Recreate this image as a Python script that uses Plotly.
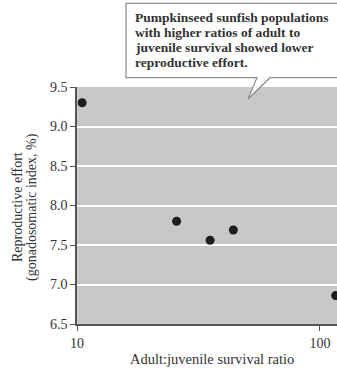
import plotly.graph_objects as go

survival_ratio = [10.5, 25.7, 35.3, 44.0, 116.0]
reproductive_effort = [9.3, 7.80, 7.56, 7.69, 6.86]
y_ticks = [6.5, 7.0, 7.5, 8.0, 8.5, 9.0, 9.5]
y_tick_labels = ["6.5", "7.0", "7.5", "8.0", "8.5", "9.0", "9.5"]
x_ticks = [10, 100]
x_tick_labels = ["10", "100"]
callout_lines = [
    "Pumpkinseed sunfish populations",
    "with higher ratios of adult to",
    "juvenile survival showed lower",
    "reproductive effort.",
]
y_title_lines = ["Reproductive effort", "(gonadosomatic index, %)"]
x_title = "Adult:juvenile survival ratio"

FONT = "Liberation Serif"
W, H = 337, 372
L, R, T, B = 77, 0, 87, 48
PW, PH = W - L - R, H - T - B


def px(x):
    return (x - L) / PW


def py(y):
    return (H - B - y) / PH


fig = go.Figure()
fig.add_trace(go.Scatter(
    x=survival_ratio, y=reproductive_effort, mode="markers",
    marker=dict(color="#1e1e1e", size=9), showlegend=False,
))

# callout box
x0, x1, yb, yt = px(126), px(345), py(77.7), py(3.3)
p1, p2, tipx, tipy = px(257), px(270), px(248), py(99)
path = (f"M {x0},{yt} L {x1},{yt} L {x1},{yb} L {p2},{yb} L {tipx},{tipy} "
        f"L {p1},{yb} L {x0},{yb} Z")
fig.add_shape(type="path", xref="paper", yref="paper", path=path,
              fillcolor="white", line=dict(color="#8c8c8c", width=1.2), layer="above")

for i, line in enumerate(callout_lines):
    fig.add_annotation(
        xref="paper", yref="paper", x=px(133), y=py(17 + 15.3 * i),
        xanchor="left", yanchor="middle", showarrow=False, text=f"<b>{line}</b>",
        font=dict(family=FONT, size=13.5, color="#333333"),
    )

for i, line in enumerate(y_title_lines):
    fig.add_annotation(
        xref="paper", yref="paper", x=px(17 + 15 * i), y=py(207),
        xanchor="center", yanchor="middle", textangle=-90, showarrow=False,
        text=line, font=dict(family=FONT, size=14, color="#333333"),
    )

fig.add_annotation(
    xref="paper", yref="paper", x=px(212), y=py(359),
    xanchor="center", yanchor="middle", showarrow=False,
    text=x_title, font=dict(family=FONT, size=14.5, color="#333333"),
)

fig.update_layout(
    width=W, height=H,
    margin=dict(l=L, r=R, t=T, b=B),
    paper_bgcolor="white", plot_bgcolor="#c8c8c8",
    font=dict(family=FONT, color="#333333", size=12),
    xaxis=dict(
        type="log", range=[1, 2.07], tickvals=x_ticks, ticktext=x_tick_labels,
        ticks="outside", ticklen=5, tickcolor="#555555", showgrid=False,
        showline=True, linecolor="#555555", linewidth=1.5, zeroline=False,
        tickfont=dict(family=FONT, size=14, color="#333333"),
    ),
    yaxis=dict(
        range=[6.5, 9.5], tickvals=y_ticks, ticktext=y_tick_labels,
        ticks="outside", ticklen=5, tickcolor="#555555",
        showgrid=True, gridcolor="white", gridwidth=1.5,
        showline=True, linecolor="#555555", linewidth=1.5, zeroline=False,
        tickfont=dict(family=FONT, size=14, color="#333333"),
    ),
)

fig.write_html(
    "out.html",
    config={"displayModeBar": False},
    post_script="document.body.style.margin='0';document.body.style.overflow='hidden';",
)
